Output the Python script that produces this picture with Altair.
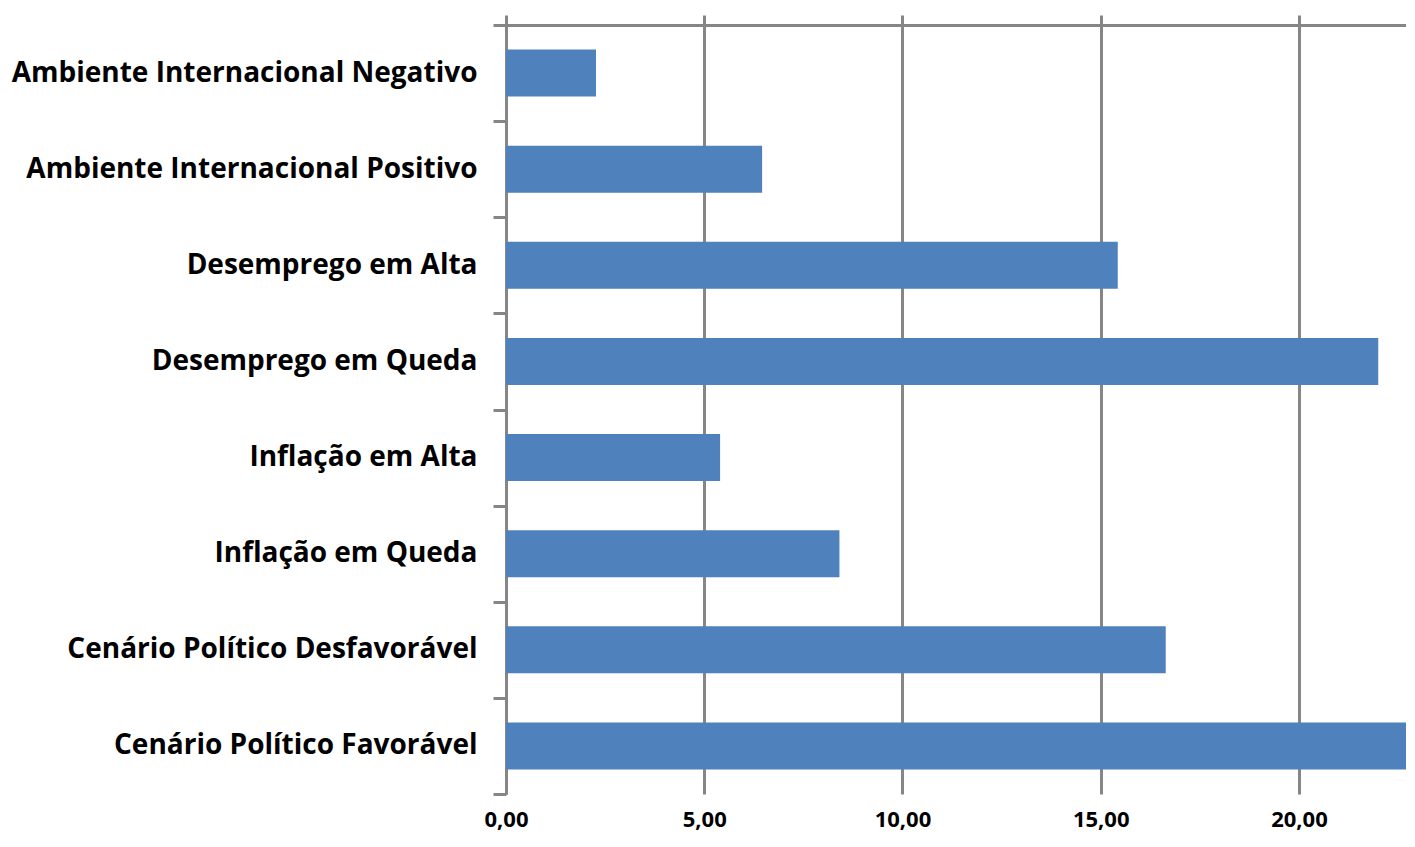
import altair as alt
import pandas as pd

categories = [
    "Ambiente Internacional Negativo",
    "Ambiente Internacional Positivo",
    "Desemprego em Alta",
    "Desemprego em Queda",
    "Inflação em Alta",
    "Inflação em Queda",
    "Cenário Político Desfavorável",
    "Cenário Político Favorável",
]
values = [2.27, 6.46, 15.43, 22.0, 5.40, 8.41, 16.64, 23.1]
x_ticks = [0, 5, 10, 15, 20]
x_max = 22.70

df = pd.DataFrame({"categoria": categories, "valor": values})

GRAY = "#868686"
BLUE = "#4F81BD"
FONT = "Open Sans"

x_scale = alt.Scale(domain=[0, x_max], nice=False, zero=True)

y_enc = alt.Y(
    "categoria:N",
    sort=categories,
    scale=alt.Scale(paddingInner=0, paddingOuter=0),
    axis=alt.Axis(
        title=None,
        tickBand="extent",
        tickSize=13,
        tickWidth=3,
        tickColor=GRAY,
        domainColor=GRAY,
        domainWidth=3,
        labelFont=FONT,
        labelFontWeight="bold",
        labelFontSize=28,
        labelColor="black",
        labelPadding=16,
        labelLimit=700,
        minExtent=498,
        maxExtent=498,
        grid=False,
    ),
)

top = alt.Chart(df).mark_bar(
    color=BLUE, height=alt.RelativeBandSize(0.49), clip=True
).encode(
    x=alt.X(
        "valor:Q",
        scale=x_scale,
        axis=alt.Axis(
            orient="top",
            values=x_ticks,
            labels=False,
            title=None,
            tickSize=10,
            tickWidth=3,
            tickColor=GRAY,
            domainColor=GRAY,
            domainWidth=3,
            grid=True,
            gridColor=GRAY,
            gridWidth=3,
            gridOpacity=1,
        ),
    ),
    y=y_enc,
)

bottom = alt.Chart(df).mark_bar(
    opacity=0, height=alt.RelativeBandSize(0.49), clip=True
).encode(
    x=alt.X(
        "valor:Q",
        scale=x_scale,
        axis=alt.Axis(
            orient="bottom",
            values=x_ticks,
            title=None,
            domain=False,
            ticks=False,
            grid=False,
            labelFlush=False,
            labelExpr="replace(format(datum.value, '.2f'), '.', ',')",
            labelFont=FONT,
            labelFontWeight="bold",
            labelFontSize=22,
            labelColor="black",
            labelPadding=15,
        ),
    ),
    y=y_enc,
)

chart = (
    alt.layer(top, bottom)
    .resolve_axis(x="independent")
    .properties(
        width=900,
        height=769,
        padding={"top": 3, "left": 0, "right": 0, "bottom": 7},
    )
    .configure_view(stroke=None)
)

chart.save("out.html", embed_options={"renderer": "svg", "actions": False})
